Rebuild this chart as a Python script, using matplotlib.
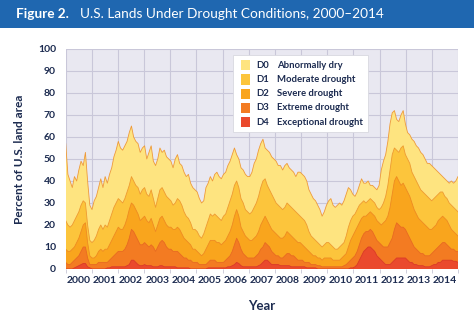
import numpy as np
import matplotlib
matplotlib.use('Agg')
from matplotlib import pyplot as plt
from matplotlib.patches import Rectangle

# percent of U.S. land area, monthly, cumulative (D0 = D0-D4, D1 = D1-D4, ...)
years = list(range(2000, 2015))

d0 = [57, 43, 40, 37, 42, 40, 45, 49, 47, 53, 40, 29,
      27, 31, 33, 37, 41, 37, 42, 39, 43, 46, 51, 54,
      58, 55, 54, 56, 58, 62, 65, 60, 58, 57, 53, 55,
      56, 50, 53, 56, 49, 47, 50, 55, 53, 54, 51, 50,
      49, 46, 50, 52, 48, 47, 44, 42, 43, 39, 37, 36,
      35, 32, 30, 31, 37, 39, 42, 40, 43, 44, 42, 41,
      43, 44, 47, 49, 52, 55, 52, 50, 46, 45, 43, 42,
      42, 44, 48, 50, 54, 57, 59, 55, 54, 53, 51, 50,
      49, 47, 47, 45, 47, 48, 46, 45, 44, 42, 44, 44,
      43, 42, 40, 36, 34, 32, 31, 29, 27, 24, 26, 29,
      31, 32, 29, 28, 29, 30, 29, 31, 34, 37, 36, 34,
      33, 35, 38, 41, 39, 39, 40, 38, 38, 37, 36, 38,
      45, 49, 52, 58, 66, 71, 72, 68, 67, 70, 72, 66,
      62, 61, 59, 58, 56, 55, 53, 52, 50, 48, 48, 47,
      46, 45, 44, 43, 42, 41, 40, 39, 40, 39, 40, 42]

d1 = [22, 20, 19, 20, 22, 24, 26, 29, 31, 30, 20, 13,
      12, 13, 15, 18, 20, 18, 20, 19, 22, 25, 28, 30,
      32, 31, 30, 32, 35, 38, 42, 40, 38, 37, 34, 36,
      37, 34, 33, 36, 32, 28, 32, 36, 37, 35, 33, 32,
      31, 29, 30, 32, 31, 29, 26, 24, 23, 21, 18, 18,
      17, 15, 14, 16, 19, 22, 25, 24, 25, 24, 23, 22,
      24, 25, 28, 31, 34, 38, 40, 37, 32, 30, 27, 26,
      25, 26, 28, 30, 33, 37, 40, 41, 38, 36, 34, 32,
      30, 29, 28, 27, 28, 30, 29, 28, 27, 26, 25, 24,
      23, 22, 20, 17, 15, 14, 13, 12, 11, 10, 11, 12,
      12, 11, 10, 9, 9, 10, 11, 12, 15, 19, 22, 24,
      25, 27, 29, 30, 31, 30, 31, 32, 31, 30, 28, 27,
      28, 30, 33, 38, 45, 52, 55, 54, 53, 55, 56, 52,
      50, 48, 44, 42, 40, 38, 36, 35, 34, 33, 32, 31,
      32, 33, 34, 35, 35, 33, 32, 30, 29, 28, 27, 26]

d2 = [9, 8, 8, 9, 10, 12, 14, 17, 20, 21, 12, 6,
      5, 5, 6, 8, 9, 8, 9, 9, 11, 13, 15, 17,
      19, 18, 18, 20, 23, 27, 30, 29, 27, 25, 22, 23,
      24, 22, 21, 23, 20, 17, 20, 23, 24, 22, 20, 19,
      19, 18, 18, 19, 18, 16, 14, 13, 12, 11, 9, 9,
      8, 7, 6, 7, 9, 11, 13, 13, 13, 12, 12, 11,
      12, 13, 15, 17, 20, 24, 27, 24, 19, 17, 15, 14,
      13, 13, 14, 15, 17, 20, 22, 24, 22, 20, 18, 17,
      16, 15, 14, 14, 15, 17, 16, 15, 14, 13, 12, 12,
      11, 10, 9, 8, 7, 6, 6, 5, 5, 4, 5, 5,
      5, 5, 4, 4, 4, 4, 5, 6, 7, 10, 13, 15,
      17, 19, 21, 23, 24, 24, 25, 26, 25, 24, 22, 21,
      20, 21, 22, 24, 28, 34, 40, 42, 40, 38, 39, 37,
      35, 33, 30, 27, 25, 23, 22, 21, 20, 19, 18, 18,
      19, 20, 22, 23, 24, 23, 22, 20, 18, 17, 16, 15]

d3 = [3, 2, 2, 3, 4, 5, 6, 8, 10, 10, 5, 2,
      2, 2, 2, 3, 3, 3, 3, 3, 4, 5, 6, 7,
      8, 8, 8, 9, 11, 14, 18, 17, 15, 13, 11, 11,
      12, 11, 10, 11, 10, 8, 10, 12, 13, 12, 10, 9,
      9, 8, 8, 8, 7, 6, 5, 5, 4, 4, 3, 3,
      3, 2, 2, 2, 2, 3, 4, 4, 4, 3, 3, 3,
      3, 4, 5, 6, 8, 11, 14, 12, 9, 7, 6, 5,
      5, 5, 5, 6, 7, 9, 10, 12, 11, 10, 8, 7,
      6, 6, 5, 5, 6, 7, 7, 6, 6, 5, 4, 4,
      4, 3, 3, 3, 2, 2, 2, 1.5, 1.5, 1, 1, 1,
      1, 1, 1, 1, 1, 1, 1, 1.5, 2, 3, 4, 5,
      6, 8, 11, 14, 16, 17, 17, 18, 17, 15, 13, 12,
      11, 10, 10, 10, 12, 14, 18, 21, 20, 19, 19, 18,
      16, 14, 12, 10, 9, 8, 7, 7, 6, 6, 6, 7,
      8, 9, 10, 11, 12, 12, 11, 10, 9, 9, 8, 8]

d4 = [0, 0, 0, 0, 0.5, 1, 1.5, 2, 2.5, 2.5, 1, 0.5,
      0, 0, 0, 0, 0, 0, 0, 0.5, 0.5, 1, 1, 1,
      1, 1, 1, 1, 1.5, 2, 4, 4, 3, 2, 1.5, 1.5,
      2, 1.5, 1.5, 1.5, 1, 1, 1, 1.5, 1.5, 1, 1, 1,
      1, 1, 1, 0.5, 0.5, 0.5, 0.5, 0.5, 0.5, 0, 0, 0,
      0, 0, 0, 0, 0, 0.5, 0.5, 0.5, 0.5, 0.5, 0.5, 0.5,
      0.5, 0.5, 1, 1, 1.5, 2, 3, 2.5, 1.5, 1, 1, 1,
      1, 1, 1, 1, 1.5, 2, 3, 4, 4, 3, 2, 2,
      2, 2, 1.5, 1.5, 1.5, 1.5, 1.5, 1, 1, 1, 1, 1,
      1, 1, 0.5, 0.5, 0.5, 0.5, 0.5, 0, 0, 0, 0, 0,
      0, 0, 0, 0, 0, 0, 0, 0, 0, 0, 0.5, 0.5,
      1, 2, 4, 6, 8, 9, 10, 10, 9, 8, 6, 5,
      4, 3, 2, 2, 2, 3, 4, 5, 5, 5, 5, 5,
      4, 3, 3, 2, 2, 1.5, 1.5, 1.5, 1, 1, 1, 1.5,
      2, 2, 3, 3, 4, 4, 4, 4, 4, 3.5, 3.5, 3]

codes = ['D0', 'D1', 'D2', 'D3', 'D4']
names = ['Abnormally dry', 'Moderate drought', 'Severe drought',
         'Extreme drought', 'Exceptional drought']
colors = ['#FEE480', '#FCC53C', '#F9A51D', '#F37B22', '#EA4A2D']
edges = ['#EE9A3A', '#EE9A32', '#EE8A22', '#E86A22', '#DA3A28']

navy = '#1c2b50'
font = 'Lato'

fig = plt.figure(figsize=(4.74, 3.27), dpi=100)
fig.patch.set_facecolor('white')

# title bar
fig.patches.append(Rectangle((0, 0.914), 1, 0.086, transform=fig.transFigure,
                             facecolor='#1f67b0', edgecolor='none', zorder=0))
fig.text(0.034, 0.957, 'Figure 2.', color='white', fontsize=9.8, fontweight='bold',
         family=font, va='center', ha='left')
fig.text(0.168, 0.957, 'U.S. Lands Under Drought Conditions, 2000\u20132014',
         color='white', fontsize=9.8, family=font, va='center', ha='left')

ax = fig.add_axes([0.1386, 0.1774, 0.8276, 0.6728])
ax.set_facecolor('#e9e8f1')

n = len(d0)
xs = np.linspace(2000, 2015, n)
for vals, c, e in zip([d0, d1, d2, d3, d4], colors, edges):
    ax.fill_between(xs, 0, vals, facecolor=c, edgecolor='none', zorder=2)
    ax.plot(xs, vals, color=e, lw=0.6, zorder=3)

ax.set_xlim(2000, 2015)
ax.set_ylim(0, 100)
ax.set_yticks(range(0, 101, 10))
ax.set_xticks(years + [2015])
ax.set_xticklabels([])
ax.set_xticks([y + 0.5 for y in years], minor=True)
ax.set_xticklabels([str(y) for y in years], minor=True)
ax.tick_params(axis='x', which='major', length=3, color='#c8c6d6', width=0.6)
ax.tick_params(axis='x', which='minor', length=0, pad=5)
ax.tick_params(axis='y', length=0, pad=7)
for lab in ax.get_xticklabels(minor=True) + ax.get_yticklabels():
    lab.set_fontsize(7.5)
    lab.set_fontweight('bold')
    lab.set_color(navy)
    lab.set_family(font)
ax.grid(True, which='major', color='#c9c7d9', lw=0.8, zorder=1)
ax.set_axisbelow(True)
for s in ax.spines.values():
    s.set_visible(False)

fig.text(0.042, 0.514, 'Percent of U.S. land area', rotation=90, color=navy,
         fontsize=8.5, fontweight='bold', family=font, ha='center', va='center')
fig.text(0.553, 0.064, 'Year', color=navy, fontsize=9.5, fontweight='bold',
         family=font, ha='center', va='center')

# legend box
ax.add_patch(Rectangle((0.426, 0.623), 0.344, 0.35, transform=ax.transAxes,
                       facecolor='white', edgecolor='#d8d8e0', lw=0.6, zorder=5))
for i in range(5):
    yc = (269 - (65.3 + i * 14.2)) / 220
    ax.add_patch(Rectangle((0.446, yc - 0.023), 0.025, 0.046, transform=ax.transAxes,
                           facecolor=colors[i], edgecolor='none', zorder=6))
    ax.text(0.485, yc, codes[i], transform=ax.transAxes, color=navy, fontsize=6.8,
            fontweight='bold', family=font, va='center', zorder=6)
    ax.text(0.538, yc, names[i], transform=ax.transAxes, color=navy, fontsize=6.8,
            fontweight='bold', family=font, va='center', zorder=6)

fig.savefig('out.png', dpi=100)
